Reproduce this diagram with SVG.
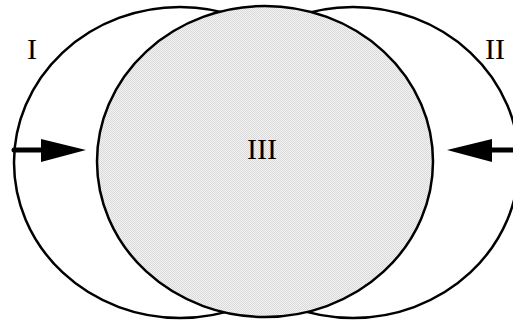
<svg xmlns="http://www.w3.org/2000/svg" width="513" height="321" viewBox="0 0 513 321">
  <style>
    .outline { fill: none; stroke: #000; stroke-width: 2.5; }
    .core { fill: url(#stipple); stroke: #000; stroke-width: 2.5; }
    .label { font-family: "Liberation Serif", "Times New Roman", serif; font-size: 30px; fill: #000; text-anchor: middle; }
    .shaft { stroke: #000; stroke-width: 5; stroke-linecap: round; fill: none; }
    .head { fill: #000; stroke: none; }
  </style>
  <defs>
    <pattern id="stipple" width="2" height="2" patternUnits="userSpaceOnUse">
      <rect width="2" height="2" fill="#f2f2f2"/>
      <rect width="1" height="1" fill="#dadada"/>
      <rect x="1" y="1" width="1" height="1" fill="#dadada"/>
    </pattern>
  </defs>
  <rect width="513" height="321" fill="#fff"/>
  <g id="node-I">
    <ellipse class="outline" cx="180" cy="162.5" rx="166" ry="155.5"/>
    <text class="label" x="32" y="59">I</text>
  </g>
  <g id="node-II">
    <ellipse class="outline" cx="353" cy="162.5" rx="166" ry="155.5"/>
    <text class="label" x="495" y="59">II</text>
  </g>
  <g id="node-III">
    <ellipse class="core" cx="265" cy="161.5" rx="168" ry="155.5"/>
    <text class="label" x="262" y="159">III</text>
  </g>
  <g id="connectors">
    <line class="shaft" x1="14" y1="150" x2="46" y2="150"/>
    <polygon class="head" points="41,139 86,150 41,162"/>
    <line class="shaft" x1="487" y1="150" x2="516" y2="150"/>
    <polygon class="head" points="492,139 447,150 492,162"/>
  </g>
</svg>
